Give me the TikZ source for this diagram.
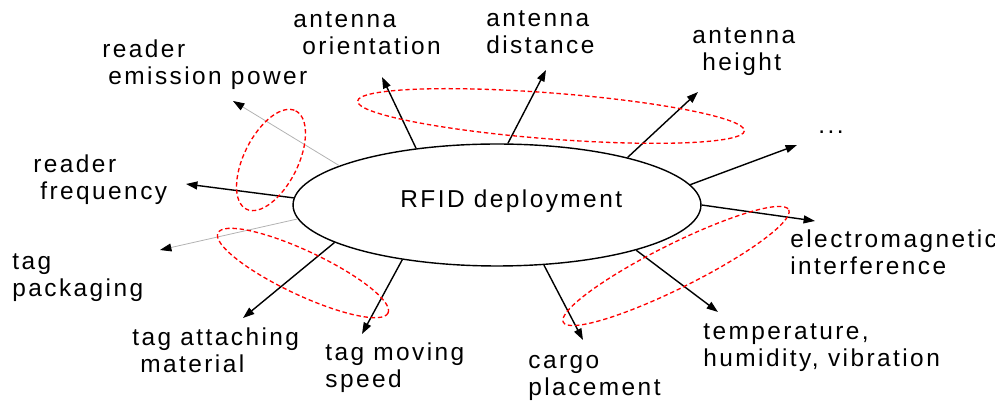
\documentclass[tikz,border=0pt]{standalone}
\usepackage{fontspec}
\setmainfont[LetterSpace=10]{Liberation Sans}
\usetikzlibrary{shapes.geometric,arrows.meta}

\begin{document}
\begin{tikzpicture}[x=0.02cm,y=-0.02cm,
  lbl/.style={anchor=base west, align=left, inner sep=0pt,
    font=\fontsize{13.9}{15.8}\selectfont},
  hubshape/.style={ellipse, draw, line width=0.8pt, minimum width=8.16cm,
    minimum height=2.44cm, inner sep=0pt},
  link/.style={line width=0.8pt, -{Triangle[length=6.5pt,width=4.5pt]}},
  faint/.style={draw=gray!60, line width=0.45pt,
    -{Triangle[length=6.5pt,width=4.5pt,color=black]}},
  group/.style={draw=red, dash pattern=on 2.5pt off 1.6pt, line width=0.75pt}
]
\useasboundingbox (0,0) rectangle (995,401);

% central factor
\node[hubshape] (hub) at (497,205) {};
\node[lbl] (hubtext) at (400,208) {RFID deployment};

% labels (anchored at the baseline of their last line)
\node[lbl] (emis)   at (102,85)  {reader\\\hspace*{0.12cm}emission power};
\node[lbl] (orient) at (293,55)  {antenna\\\hspace*{0.18cm}orientation};
\node[lbl] (dist)   at (486,54)  {antenna\\distance};
\node[lbl] (height) at (692,71)  {antenna\\\hspace*{0.2cm}height};
\node[lbl] (more)   at (818,134) {...};
\node[lbl] (freq)   at (33,200)  {reader\\\hspace*{0.14cm}frequency};
\node[lbl] (pack)   at (12,297)  {tag\\packaging};
\node[lbl] (attach) at (132,373) {tag attaching\\\hspace*{0.16cm}material};
\node[lbl] (speed)  at (325,388) {tag moving\\speed};
\node[lbl] (cargo)  at (528,396) {cargo\\placement};
\node[lbl] (temp)   at (703,367) {temperature,\\humidity, vibration};
\node[lbl] (emi)    at (790,275) {electromagnetic\\interference};

% arrow tips
\coordinate (tEmis)   at (233,101);
\coordinate (tFreq)   at (186,184);
\coordinate (tPack)   at (160,250);
\coordinate (tAttach) at (243,318);
\coordinate (tSpeed)  at (362,334);
\coordinate (tCargo)  at (583,340);
\coordinate (tTemp)   at (718,312);
\coordinate (tEmi)    at (815,221);
\coordinate (tMore)   at (797,145);
\coordinate (tHeight) at (698,92);
\coordinate (tDist)   at (546,70);
\coordinate (tOrient) at (382,77);

% connectors
\draw[faint] (hub.166.3) -- (tEmis);
\draw[link]  (hub.178)   -- (tFreq);
\draw[faint] (hub.184.5) -- (tPack);
\draw[link]  (hub.193)   -- (tAttach);
\draw[link]  (hub.210)   -- (tSpeed);
\draw[link]  (hub.308.2) -- (tCargo);
\draw[link]  (hub.342.2) -- (tTemp);
\draw[link]  (hub.-0.3)  -- (tEmi);
\draw[link]  (hub.6.4)   -- (tMore);
\draw[link]  (hub.20.2)  -- (tHeight);
\draw[link]  (hub.80.5)  -- (tDist);
\draw[link]  (hub.145.5) -- (tOrient);

% dashed groupings
\draw[group, shift={(271,160)}, rotate=63.4]  (0,0) ellipse [x radius=55,  y radius=27];
\draw[group, shift={(551,116)}, rotate=-4.4]  (0,0) ellipse [x radius=194, y radius=23];
\draw[group, shift={(303,273)}, rotate=-25.2] (0,0) ellipse [x radius=94,  y radius=22];
\draw[group, shift={(676,266)}, rotate=26.5]  (0,0) ellipse [x radius=126, y radius=22];
\end{tikzpicture}
\end{document}
